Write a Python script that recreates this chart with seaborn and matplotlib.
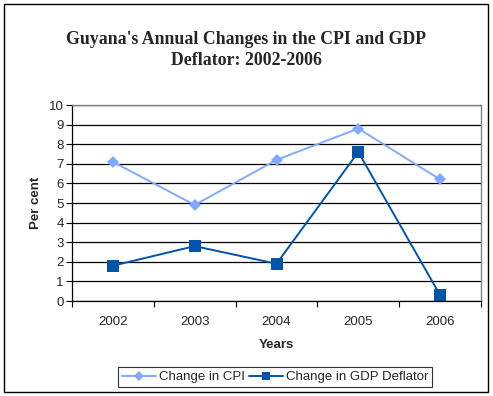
import matplotlib
matplotlib.use("Agg")
import matplotlib.pyplot as plt
import seaborn as sns
import pandas as pd
from matplotlib.patches import Rectangle
from matplotlib.lines import Line2D

years = ["2002", "2003", "2004", "2005", "2006"]
cpi = [7.1, 4.9, 7.2, 8.8, 6.2]
gdp = [1.8, 2.8, 1.9, 7.6, 0.3]
series_names = ["Change in CPI", "Change in GDP Deflator"]

df = pd.DataFrame({
    "pos": list(range(len(years))) * 2,
    "value": cpi + gdp,
    "series": [series_names[0]] * len(years) + [series_names[1]] * len(years),
})

sns.set_theme(style="white")
plt.rcParams["font.family"] = ["Liberation Sans", "DejaVu Sans"]

fig = plt.figure(figsize=(4.93, 3.96), dpi=100)
ax = fig.add_axes([72/493, 95/396, (481-72)/493, (301-105)/396])

palette = {series_names[0]: "#80AAFF", series_names[1]: "#0055AA"}
sns.lineplot(data=df, x="pos", y="value", hue="series", style="series",
             markers={series_names[0]: "D", series_names[1]: "s"}, dashes=False,
             palette=palette, ax=ax, linewidth=1.4, markeredgewidth=0,
             legend=False)
for line, ms in zip(ax.lines, [6, 8]):
    line.set_markersize(ms)

ax.set_xlim(-0.5, len(years) - 0.5)
ax.set_ylim(0, 10)
ax.set_yticks(range(0, 11))
ax.set_yticklabels([str(i) for i in range(0, 11)], fontsize=9.5)
ax.yaxis.grid(True, color="black", linewidth=0.9)
ax.set_axisbelow(True)

ax.set_xticks([i - 0.5 for i in range(len(years) + 1)])
ax.set_xticklabels([""] * (len(years) + 1))
ax.set_xticks(range(len(years)), minor=True)
ax.set_xticklabels(years, minor=True, fontsize=9.5)
ax.tick_params(axis="x", which="major", direction="out", length=4, color="black", width=0.8, bottom=True)
ax.tick_params(axis="x", which="minor", length=0, pad=11)
ax.tick_params(axis="y", direction="out", length=4, color="black", width=0.8, left=True, pad=2)

for side in ["top", "right"]:
    ax.spines[side].set_color("#808080")
    ax.spines[side].set_linewidth(1.0)
for side in ["left", "bottom"]:
    ax.spines[side].set_color("black")
    ax.spines[side].set_linewidth(0.9)

ax.set_xlabel("Years", fontsize=9.5, fontweight="bold", labelpad=8)
ax.set_ylabel("Per cent", fontsize=9.5, fontweight="bold", labelpad=5)

fig.text(0.5, (396-50)/396, "Guyana's Annual Changes in the CPI and GDP\nDeflator: 2002-2006",
         ha="center", va="center", fontsize=12.8, fontweight="bold",
         family=["Liberation Serif", "DejaVu Serif"], linespacing=1.25)

handles = [Line2D([], [], color=palette[series_names[0]], marker="D", markersize=5, linewidth=1.4, markeredgewidth=0),
           Line2D([], [], color=palette[series_names[1]], marker="s", markersize=6, linewidth=1.4, markeredgewidth=0)]
leg = fig.legend(handles, series_names, loc="center", bbox_to_anchor=(275/493, (396-377)/396),
                 ncol=2, frameon=True, fontsize=9.5, handlelength=2.6, handletextpad=0.2,
                 columnspacing=0.3, borderpad=0.3, borderaxespad=0.0, fancybox=False)
leg.get_frame().set_edgecolor("black")
leg.get_frame().set_linewidth(0.8)

fig.patches.append(Rectangle((4/493, 4/396), 484/493, 388/396, transform=fig.transFigure,
                             fill=False, edgecolor="black", linewidth=1.0))

fig.savefig("out.png", dpi=100)
